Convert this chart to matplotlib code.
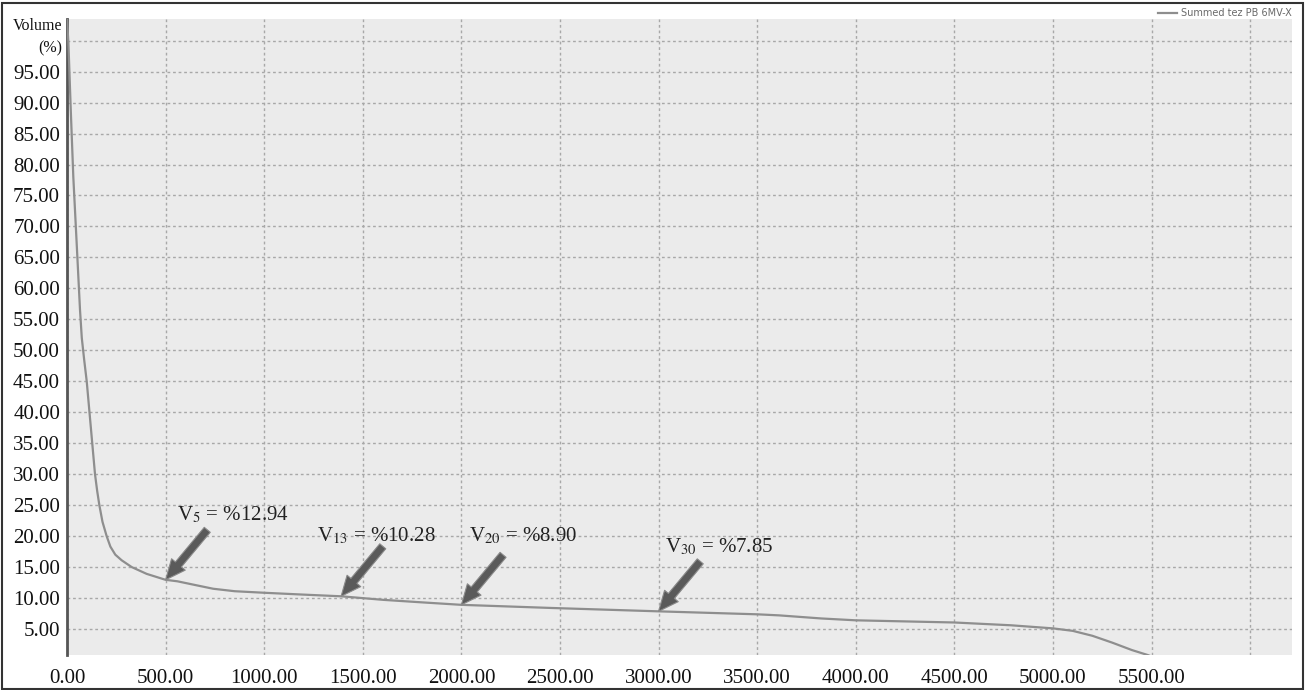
import matplotlib
matplotlib.use("Agg")
import matplotlib.pyplot as plt
import matplotlib.transforms as mtransforms
from matplotlib.patches import Rectangle
import numpy as np

plt.rcParams['font.family'] = ['Liberation Serif', 'DejaVu Serif']
plt.rcParams['mathtext.fontset'] = 'stix'

# summed DVH curve (dose vs. volume %)
dose = [0, 7, 19, 32, 49, 66, 75, 87, 100, 114, 128, 142, 153, 164, 180, 201,
        220, 245, 277, 328, 404, 500, 560, 650, 741, 850, 1000, 1200, 1390,
        1606, 1800, 2000, 2452, 3000, 3500, 3611, 3825, 4000, 4500, 4786,
        5000, 5100, 5200, 5300, 5400, 5480, 5520]
volume = [103.5, 99.7, 88.9, 78.0, 67.3, 56.5, 52.0, 48.5, 45.0, 40.0, 35.0,
          30.0, 27.3, 25.0, 22.3, 20.0, 18.3, 17.0, 16.1, 15.0, 13.9, 12.94,
          12.7, 12.1, 11.5, 11.1, 10.85, 10.55, 10.28, 9.7, 9.3, 8.90, 8.4,
          7.85, 7.37, 7.2, 6.7, 6.4, 6.05, 5.6, 5.1, 4.7, 3.9, 2.8, 1.6, 0.8,
          0.3]
series_label = "Summed tez PB 6MV-X"

# marked points V_n = %value
mark_names = ['5', '13', '20', '30']
mark_dose = [500, 1390, 2000, 3000]
mark_volume = [12.94, 10.28, 8.90, 7.85]
# where each label sits (data coords, left/center anchored)
label_pos = [(556, 23.4), (1267, 20.0), (2037, 20.0), (3035, 18.3)]

x_ticks = np.arange(0, 6001, 500)
y_ticks = np.arange(5, 101, 5)

fig = plt.figure(figsize=(13.15, 6.9), dpi=100)
ax = fig.add_axes([67 / 1315, 35 / 690, 1225 / 1315, 636 / 690])
ax.set_facecolor('#ebebeb')

ax.plot(dose, volume, color='#8e8e8e', lw=1.6, label=series_label, zorder=3)

ax.set_xlim(0, 6212)
ax.set_ylim(0.8, 103.5)

ax.set_xticks(x_ticks)
ax.set_xticklabels(['%.2f' % v if v <= 5500 else '' for v in x_ticks])
ax.set_yticks(y_ticks)
ax.set_yticklabels(['%.2f' % v if v < 100 else '' for v in y_ticks])
ax.tick_params(axis='both', length=0, labelsize=15, colors='#111111')
ax.tick_params(axis='y', pad=5)
ax.tick_params(axis='x', pad=10)

ax.grid(True, color='#a8a8a8', linestyle=(0, (2, 2)), linewidth=1.0)
ax.set_axisbelow(True)

for side in ['top', 'right', 'bottom']:
    ax.spines[side].set_visible(False)
ax.spines['left'].set_color('#555555')
ax.spines['left'].set_linewidth(2)

# y axis caption stacked above the ticks
trans = mtransforms.blended_transform_factory(ax.transAxes, ax.transData)
ax.text(-0.004, 98.7, '(%)', transform=trans, ha='right', va='center',
        fontsize=11.5, color='#111111')
ax.text(-0.004, 102.4, 'Volume', transform=trans, ha='right', va='center',
        fontsize=11.5, color='#111111', clip_on=False)

# arrows and labels for the marked volumes
for name, d, v, (tx, ty) in zip(mark_names, mark_dose, mark_volume, label_pos):
    ax.annotate('', xy=(d, v), xytext=(30, 36), textcoords='offset points',
                arrowprops=dict(arrowstyle='simple,head_length=0.9,head_width=0.8,tail_width=0.35',
                                mutation_scale=16, facecolor='#5a5a5a',
                                edgecolor='#8a8a8a', lw=0.8,
                                shrinkA=0, shrinkB=0), zorder=4)
    ax.text(tx, ty, 'V$_{%s}$ = %%%.2f' % (name, v), ha='left', va='center',
            fontsize=15, color='#222222', zorder=5)

leg = ax.legend(loc='center right', bbox_to_anchor=(1.0, 1.0 + 6 / 636),
                frameon=False, handlelength=2.0,
                handletextpad=0.4, borderaxespad=0, borderpad=0,
                labelcolor='#6a6a6a', prop={'family': 'DejaVu Sans', 'size': 7})

fig.patches.append(Rectangle((2 / 1315, 1 / 690), 1301 / 1315, 686 / 690,
                             transform=fig.transFigure, fill=False,
                             edgecolor='#333333', lw=1.5))

fig.savefig('out.png', dpi=100)
